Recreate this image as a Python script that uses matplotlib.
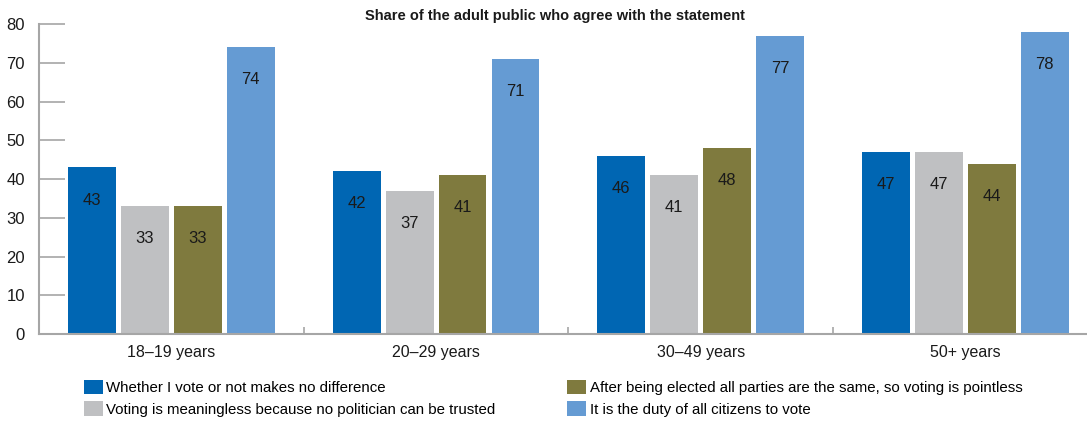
import numpy as np
import matplotlib
matplotlib.use("Agg")
import matplotlib.pyplot as plt
from matplotlib import ticker

plt.rcParams['font.family'] = ['Liberation Sans', 'DejaVu Sans']

groups = ['18–19 years', '20–29 years', '30–49 years', '50+ years']
series = ['Whether I vote or not makes no difference',
          'Voting is meaningless because no politician can be trusted',
          'After being elected all parties are the same, so voting is pointless',
          'It is the duty of all citizens to vote']
no_difference = [43, 42, 46, 47]
no_trust = [33, 37, 41, 47]
parties_same = [33, 41, 48, 44]
duty = [74, 71, 77, 78]
values = [no_difference, no_trust, parties_same, duty]
colors = ['#0066b3', '#bfc0c2', '#7f7a3e', '#659bd3']

W, H = 1087, 423
fig = plt.figure(figsize=(W / 100, H / 100), dpi=100)
ax = fig.add_axes([39 / W, 89 / H, 1048 / W, 310 / H])

x = np.arange(len(groups))
offsets = [-0.3, -0.1, 0.1, 0.3]
bars = []
for vals, off, col in zip(values, offsets, colors):
    b = ax.bar(x + off, vals, width=0.181, color=col, zorder=2)
    bars.append(b)
    for rect, v in zip(b, vals):
        ax.annotate(str(v), (rect.get_x() + rect.get_width() / 2, v),
                    xytext=(0, -23.5), textcoords='offset points',
                    ha='center', va='center', fontsize=12, color='#1a1a1a')

ax.set_xlim(-0.5, -0.5 + 1048 / 264.7)
ax.set_ylim(0, 80)
ax.yaxis.set_major_locator(ticker.MultipleLocator(10))
ax.set_xticks(x)
ax.set_xticklabels(groups)
ax.set_xticks([0.5, 1.5, 2.5], minor=True)

for s in ['top', 'right']:
    ax.spines[s].set_visible(False)
for s in ['left', 'bottom']:
    ax.spines[s].set_color('#a6a6a6')
    ax.spines[s].set_linewidth(1.5)

ax.tick_params(axis='y', direction='in', length=19, width=1.2, color='#a6a6a6',
               labelsize=12, pad=10, labelcolor='#1a1a1a')
ax.tick_params(axis='x', which='major', length=0, labelsize=11.5, pad=8,
               labelcolor='#1a1a1a')
ax.tick_params(axis='x', which='minor', direction='in', length=5, width=1.2,
               color='#a6a6a6')

fig.text(555 / W, 1 - 16 / H, 'Share of the adult public who agree with the statement',
         ha='center', va='center', fontsize=10.5, fontweight='bold', color='#1a1a1a')

leg_kw = dict(frameon=False, fontsize=10.8, handlelength=1.25, handleheight=1.15,
              handletextpad=0.25, labelspacing=0.42, borderpad=0, borderaxespad=0)
h = [b.patches[0] for b in bars]
l1 = fig.legend(h[:2], series[:2], loc='upper left',
                bbox_to_anchor=(84 / W, 1 - 379.5 / H), **leg_kw)
l2 = fig.legend(h[2:], series[2:], loc='upper left',
                bbox_to_anchor=(567 / W, 1 - 379.5 / H), **leg_kw)

fig.savefig('out.png', dpi=100)
